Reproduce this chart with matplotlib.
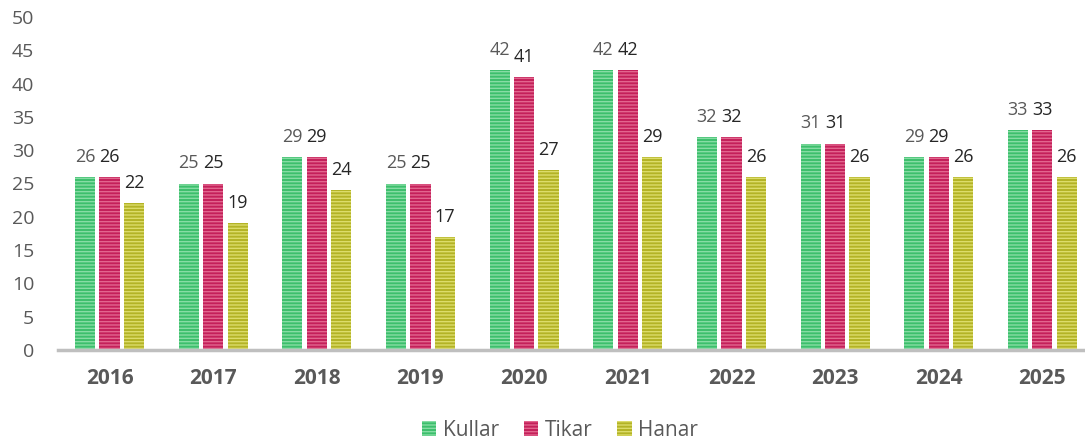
import matplotlib
matplotlib.use("Agg")
import matplotlib.pyplot as plt
import numpy as np

years = ["2016", "2017", "2018", "2019", "2020", "2021", "2022", "2023", "2024", "2025"]
kullar = [26, 25, 29, 25, 42, 42, 32, 31, 29, 33]
tikar = [26, 25, 29, 25, 41, 42, 32, 31, 29, 33]
hanar = [22, 19, 24, 17, 27, 29, 26, 26, 26, 26]
series_names = ["Kullar", "Tikar", "Hanar"]

FACE = ["#3cbf6c", "#c4205a", "#b3b326"]
STRIPE = ["#86dca4", "#e2668e", "#dcdc6a"]
LABEL_C = ["#595959", "#262626", "#262626"]
GRAY = "#595959"

plt.rcParams["font.family"] = ["Open Sans", "DejaVu Sans"]
plt.rcParams["hatch.linewidth"] = 1.0

W, H = 1085, 443
fig = plt.figure(figsize=(W / 100, H / 100), dpi=100)
ax = fig.add_axes([57.7 / W, 1 - 350 / H, 1036.5 / W, 333 / H])

x = np.arange(len(years))
bw = 0.195
step = 0.236
handles = []
for i, vals in enumerate([kullar, tikar, hanar]):
    xs = x + (i - 1) * step
    b = ax.bar(xs, vals, bw, color=FACE[i], edgecolor=STRIPE[i], lw=0,
               hatch="-----", label=series_names[i])
    handles.append(b)
    for xi, v in zip(xs, vals):
        ax.annotate(f"{v}", (xi, v), textcoords="offset points", xytext=(0, 8),
                    ha="center", va="bottom", fontsize=13, color=LABEL_C[i])

ax.set_xlim(-0.5, len(years) - 0.5)
ax.set_ylim(0, 50)
ax.set_yticks(range(0, 51, 5))
ax.set_xticks(x)
ax.set_xticklabels(years, fontsize=15, fontweight="bold", color=GRAY)
ax.tick_params(axis="y", length=0, pad=17, labelsize=14, labelcolor=GRAY)
ax.tick_params(axis="x", length=0, pad=13)
for sp in ("top", "right", "left"):
    ax.spines[sp].set_visible(False)
ax.spines["bottom"].set_color("#bfbfbf")
ax.spines["bottom"].set_linewidth(2.5)

fig.legend(handles=handles, loc="center", bbox_to_anchor=(560 / W, 1 - 430 / H),
           ncol=3, frameon=False, fontsize=15, labelcolor=GRAY,
           handlelength=0.7, handleheight=0.7, handletextpad=0.3, columnspacing=1.2)

fig.savefig("out.png", dpi=100)
